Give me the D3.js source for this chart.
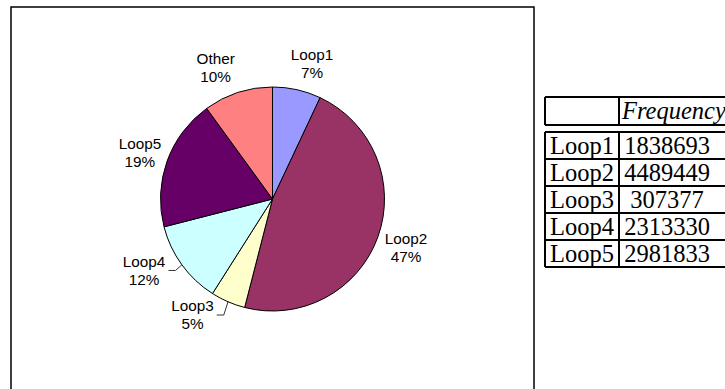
<!DOCTYPE html>
<html>
<head>
<meta charset="utf-8">
<script src="https://cdn.jsdelivr.net/npm/d3@7"></script>
<style>
  body { margin: 0; background: #fff; }
</style>
</head>
<body>
<div id="wrapper"></div>
<script>
// pie data (percent labels)
const sliceNames = ["Loop1", "Loop2", "Loop3", "Loop4", "Loop5", "Other"];
const slicePercents = [7, 47, 5, 12, 19, 10];

// table data
const tableHeader = ["", "Frequency"];
const tableLoops = ["Loop1", "Loop2", "Loop3", "Loop4", "Loop5"];
const tableFrequency = [1838693, 4489449, 307377, 2313330, 2981833];

const drawChart = () => {
  const width = 725;
  const height = 389;

  const svg = d3.select("#wrapper")
    .append("svg")
    .attr("width", width)
    .attr("height", height);

  // chart frame (bottom edge runs off the picture)
  svg.append("rect")
    .attr("x", 11)
    .attr("y", 7)
    .attr("width", 523)
    .attr("height", 420)
    .attr("fill", "#fff")
    .attr("stroke", "#000")
    .attr("stroke-width", 1.5);

  // pie
  const cx = 272.5, cy = 199, radius = 112;
  const colors = d3.scaleOrdinal()
    .domain(sliceNames)
    .range(["#9999ff", "#993366", "#ffffcc", "#ccffff", "#660066", "#ff8080"]);

  const pie = d3.pie().sort(null).value(d => d.value);
  const slices = pie(sliceNames.map((name, i) => ({ name, value: slicePercents[i] })));
  const arc = d3.arc().innerRadius(0).outerRadius(radius);
  const edgeArc = d3.arc().innerRadius(radius).outerRadius(radius);
  const labelArc = d3.arc().innerRadius(142).outerRadius(142);

  const pieG = svg.append("g").attr("transform", `translate(${cx},${cy})`);

  pieG.selectAll("path.slice")
    .data(slices)
    .join("path")
    .attr("class", "slice")
    .attr("d", arc)
    .attr("fill", d => colors(d.data.name))
    .attr("stroke", "#000")
    .attr("stroke-width", 1);

  // label nudges, Excel "best fit" style
  const nudge = {
    Loop1: [8.5, 3.6],
    Loop2: [0, 1],
    Loop3: [-23.6, -14.3],
    Loop4: [-13.6, -12],
    Loop5: [1, 2],
    Other: [-13, 3.5]
  };
  const withLeader = ["Loop3", "Loop4"];
  const fontSize = 15.3;
  const lineGap = 18;

  const labels = pieG.selectAll("g.label")
    .data(slices)
    .join("g")
    .attr("class", "label")
    .each(function (d) {
      const [bx, by] = labelArc.centroid(d);
      const [nx, ny] = nudge[d.data.name];
      d.lx = bx + nx;
      d.ly = by + ny;
    });

  labels.append("text")
    .attr("text-anchor", "middle")
    .attr("font-family", "'Liberation Sans', Arial, sans-serif")
    .attr("font-size", fontSize)
    .attr("fill", "#000")
    .selectAll("tspan")
    .data(d => [
      { t: d.data.name, x: d.lx, y: d.ly - lineGap / 2 },
      { t: d.data.value + "%", x: d.lx, y: d.ly + lineGap / 2 }
    ])
    .join("tspan")
    .attr("x", d => d.x)
    .attr("y", d => d.y + fontSize * 0.35)
    .text(d => d.t);

  // leader lines for the small bottom slices
  labels.filter(d => withLeader.includes(d.data.name))
    .append("path")
    .attr("fill", "none")
    .attr("stroke", "#000")
    .attr("stroke-width", 0.8)
    .attr("d", function (d) {
      const w = this.parentNode.querySelector("text").getBBox().width;
      const x0 = d.lx + w / 2 + 3;
      const [ex, ey] = edgeArc.centroid(d);
      return `M${x0},${d.ly}L${x0 + 7},${d.ly}L${ex},${ey}`;
    });

  // table
  const tLeft = 545, tSep = 619, tRight = 740;
  const headTop = 97, headBottom = 125;
  const yRows = d3.scaleBand()
    .domain(tableLoops)
    .range([132, 267]);

  const tableG = svg.append("g")
    .attr("stroke", "#000")
    .attr("stroke-width", 2);

  // header box
  [headTop, headBottom].forEach(y =>
    tableG.append("line").attr("x1", tLeft).attr("x2", tRight).attr("y1", y).attr("y2", y));
  [tLeft, tSep].forEach(x =>
    tableG.append("line").attr("x1", x).attr("x2", x).attr("y1", headTop).attr("y2", headBottom));

  // body rows
  const rowLines = tableLoops.map(d => yRows(d)).concat([yRows.range()[1]]);
  tableG.selectAll("line.row")
    .data(rowLines)
    .join("line")
    .attr("class", "row")
    .attr("x1", tLeft)
    .attr("x2", tRight)
    .attr("y1", d => d)
    .attr("y2", d => d);
  [tLeft, tSep].forEach(x =>
    tableG.append("line").attr("x1", x).attr("x2", x)
      .attr("y1", yRows.range()[0]).attr("y2", yRows.range()[1]));

  const tFont = "'Liberation Serif', 'Times New Roman', serif";
  const tSize = 24.5;

  svg.append("text")
    .attr("x", tSep + 3)
    .attr("y", (headTop + headBottom) / 2 + tSize * 0.33)
    .attr("font-family", tFont)
    .attr("font-style", "italic")
    .attr("font-size", tSize)
    .text(tableHeader[1]);

  svg.append("g").selectAll("text")
    .data(tableLoops)
    .join("text")
    .attr("x", (tLeft + tSep) / 2)
    .attr("y", d => yRows(d) + yRows.bandwidth() / 2 + tSize * 0.33)
    .attr("text-anchor", "middle")
    .attr("font-family", tFont)
    .attr("font-size", tSize)
    .text(d => d);

  svg.append("g").selectAll("text")
    .data(tableFrequency)
    .join("text")
    .attr("x", 667)
    .attr("y", (d, i) => yRows(tableLoops[i]) + yRows.bandwidth() / 2 + tSize * 0.33)
    .attr("text-anchor", "middle")
    .attr("font-family", tFont)
    .attr("font-size", tSize)
    .text(d => d);
};

drawChart();
</script>
</body>
</html>
